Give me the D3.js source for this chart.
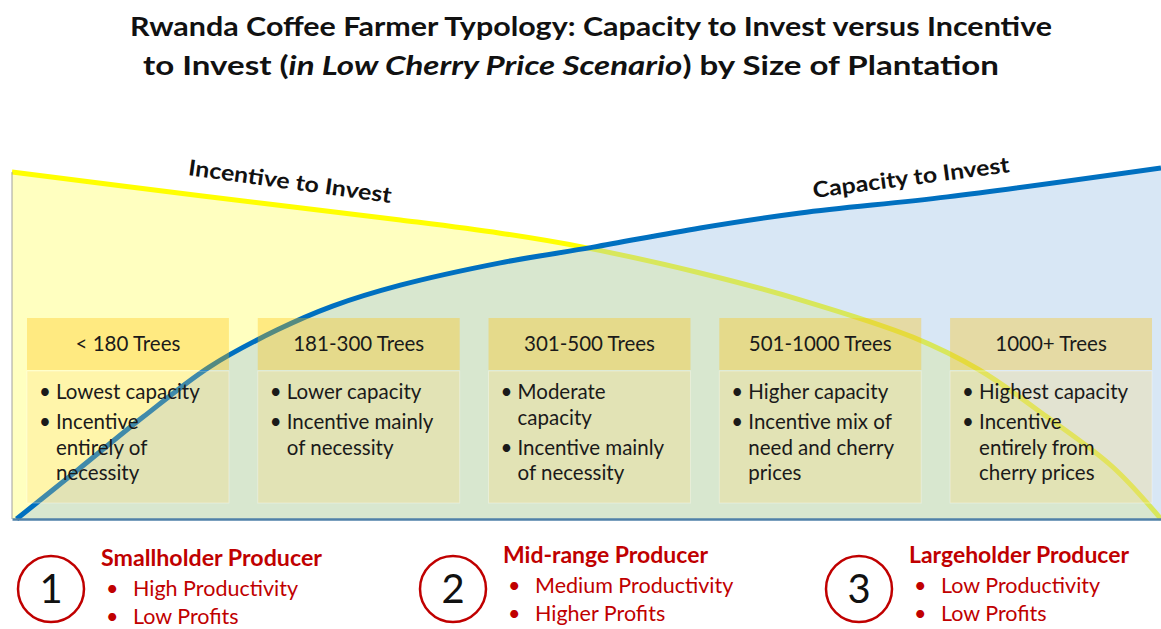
<!DOCTYPE html>
<html>
<head>
<meta charset="utf-8">
<script src="https://cdn.jsdelivr.net/npm/d3@7"></script>
<style>
  html, body { margin: 0; padding: 0; background: #fff; }
  svg { display: block; font-family: Lato, "Open Sans", sans-serif; }
</style>
</head>
<body>
<svg id="chart" width="1161" height="629"></svg>
<script>
// plantation size runs 0..100 left to right, level 0..100 bottom to top
var incentiveX = [0, 16.4, 33.8, 42.5, 49.7, 59.9, 68.6, 78.4, 84.2, 90.1, 95.8, 100]
var incentiveY = [99.4, 92.6, 85.7, 81.9, 77.9, 70.5, 62.8, 52.1, 42.7, 29.2, 14.9, 0]

var capacityX = [0.4, 5.7, 11.4, 17.2, 23.1, 27.9, 33.8, 42.5, 50.6, 59.9, 68.6, 81.4, 100]
var capacityY = [0, 14.0, 29.2, 43.6, 54.2, 61.0, 67.0, 73.4, 77.9, 83.4, 87.7, 92.3, 100.6]

var sizeBands = ['< 180 Trees', '181-300 Trees', '301-500 Trees', '501-1000 Trees', '1000+ Trees']
var bandNotes = [
  [['Lowest capacity'], ['Incentive', 'entirely of', 'necessity']],
  [['Lower capacity'], ['Incentive mainly', 'of necessity']],
  [['Moderate', 'capacity'], ['Incentive mainly', 'of necessity']],
  [['Higher capacity'], ['Incentive mix of', 'need and cherry', 'prices']],
  [['Highest capacity'], ['Incentive', 'entirely from', 'cherry prices']]
]

var producerNames = ['Smallholder Producer', 'Mid-range Producer', 'Largeholder Producer']
var producerPoints = [
  ['High Productivity', 'Low Profits'],
  ['Medium Productivity', 'Higher Profits'],
  ['Low Productivity', 'Low Profits']
]

var svg = d3.select('#chart')

var x = d3.scaleLinear().domain([0, 100]).range([12, 1161])
var y = d3.scaleLinear().domain([0, 100]).range([519, 170])

var incentive = incentiveX.map(function (d, i) { return [d, incentiveY[i]] })
var capacity = capacityX.map(function (d, i) { return [d, capacityY[i]] })

var area = d3.area()
  .x(function (d) { return x(d[0]) })
  .y0(y(0))
  .y1(function (d) { return y(d[1]) })
  .curve(d3.curveCatmullRom.alpha(0.5))

var line = d3.line()
  .x(function (d) { return x(d[0]) })
  .y(function (d) { return y(d[1]) })
  .curve(d3.curveCatmullRom.alpha(0.5))

// title
var title = svg.append('g').attr('font-weight', 'bold').attr('fill', '#111')
  .attr('font-size', 27).attr('text-anchor', 'middle')
title.append('text').attr('x', 591).attr('y', 36)
  .attr('textLength', 922).attr('lengthAdjust', 'spacingAndGlyphs')
  .text('Rwanda Coffee Farmer Typology: Capacity to Invest versus Incentive')
var t2 = title.append('text').attr('x', 571).attr('y', 75)
  .attr('textLength', 856).attr('lengthAdjust', 'spacingAndGlyphs')
t2.append('tspan').text('to Invest (')
t2.append('tspan').attr('font-style', 'italic').text('in Low Cherry Price Scenario')
t2.append('tspan').text(') by Size of Plantation')

// areas and curves
svg.append('path').datum(incentive).attr('d', area).attr('fill', '#ffffc0')
svg.append('path').datum(incentive).attr('d', line)
  .attr('fill', 'none').attr('stroke', '#ffff00').attr('stroke-width', 5)
svg.append('path').datum(capacity).attr('d', area)
  .attr('fill', '#9dc3e6').attr('fill-opacity', 0.4)
svg.append('path').datum(capacity).attr('d', line)
  .attr('fill', 'none').attr('stroke', '#0070c0').attr('stroke-width', 5)

svg.append('line')
  .attr('x1', x(0)).attr('x2', x(0))
  .attr('y1', y(incentiveY[0])).attr('y2', y(0))
  .attr('stroke', '#a0a0a0').attr('stroke-width', 1)

svg.append('g')
  .attr('transform', 'translate(0,' + y(0) + ')')
  .call(d3.axisBottom(x).ticks(0).tickSizeOuter(0))
  .call(function (g) {
    g.select('.domain').attr('stroke', '#4f81a8').attr('stroke-width', 2.5)
  })

// curve labels
svg.append('text')
  .attr('transform', 'translate(289,189) rotate(7.9)')
  .attr('text-anchor', 'middle').attr('font-weight', 'bold').attr('font-size', 22)
  .attr('textLength', 205).attr('lengthAdjust', 'spacingAndGlyphs')
  .attr('fill', '#111')
  .text('Incentive to Invest')
svg.append('text')
  .attr('transform', 'translate(912,185) rotate(-7.5)')
  .attr('text-anchor', 'middle').attr('font-weight', 'bold').attr('font-size', 22)
  .attr('textLength', 198).attr('lengthAdjust', 'spacingAndGlyphs')
  .attr('fill', '#111')
  .text('Capacity to Invest')

// size boxes
var band = d3.scaleBand().domain(sizeBands).range([27, 1152]).paddingInner(0.125)

var boxes = svg.append('g').selectAll('g')
  .data(sizeBands)
  .enter()
  .append('g')
  .attr('transform', function (d) { return 'translate(' + band(d) + ',0)' })

boxes.append('rect')
  .attr('y', 318).attr('width', band.bandwidth()).attr('height', 52)
  .attr('fill', '#ffc000').attr('fill-opacity', 0.33)
boxes.append('rect')
  .attr('y', 371).attr('width', band.bandwidth()).attr('height', 132)
  .attr('fill', '#ffd966').attr('fill-opacity', 0.25)
  .attr('stroke', '#ffffff').attr('stroke-opacity', 0.35)

var boxFont = 20.5

boxes.append('text')
  .attr('x', band.bandwidth() / 2).attr('y', 351)
  .attr('text-anchor', 'middle').attr('font-size', boxFont).attr('fill', '#1a1a1a')
  .text(function (d) { return d })

boxes.each(function (d, i) {
  var g = d3.select(this)
  var yy = 399
  bandNotes[i].forEach(function (lines) {
    g.append('text').attr('x', 12).attr('y', yy)
      .attr('font-size', boxFont).attr('fill', '#1a1a1a').text('\u2022')
    lines.forEach(function (l, j) {
      g.append('text').attr('x', 29).attr('y', yy + j * 25.5)
        .attr('font-size', boxFont).attr('fill', '#1a1a1a').text(l)
    })
    yy += (lines.length - 1) * 25.5 + 30
  })
})

// producer legend
var legendX = [51, 453, 859]
var legend = svg.append('g').selectAll('g')
  .data(producerNames)
  .enter()
  .append('g')
  .attr('transform', function (d, i) { return 'translate(' + legendX[i] + ',0)' })

legend.append('circle')
  .attr('cy', 589).attr('r', 33)
  .attr('fill', 'none').attr('stroke', '#c00000').attr('stroke-width', 2.5)
legend.append('text')
  .attr('y', 603).attr('text-anchor', 'middle').attr('font-size', 40).attr('fill', '#111')
  .text(function (d, i) { return i + 1 })
legend.append('text')
  .attr('x', 50).attr('y', function (d, i) { return i === 0 ? 566 : 563 })
  .attr('font-weight', 'bold').attr('font-size', 22.5).attr('fill', '#c00000')
  .attr('textLength', function (d, i) { return [221, 205, 220][i] })
  .attr('lengthAdjust', 'spacingAndGlyphs')
  .text(function (d) { return d })
legend.each(function (d, i) {
  var g = d3.select(this)
  var base = i === 0 ? 596 : 593
  producerPoints[i].forEach(function (p, j) {
    g.append('text').attr('x', 55).attr('y', base + j * 27.5)
      .attr('font-size', 21.5).attr('fill', '#c00000').text('\u2022')
    g.append('text').attr('x', 82).attr('y', base + j * 27.5)
      .attr('font-size', 21.5).attr('fill', '#c00000').text(p)
  })
})
</script>
</body>
</html>
